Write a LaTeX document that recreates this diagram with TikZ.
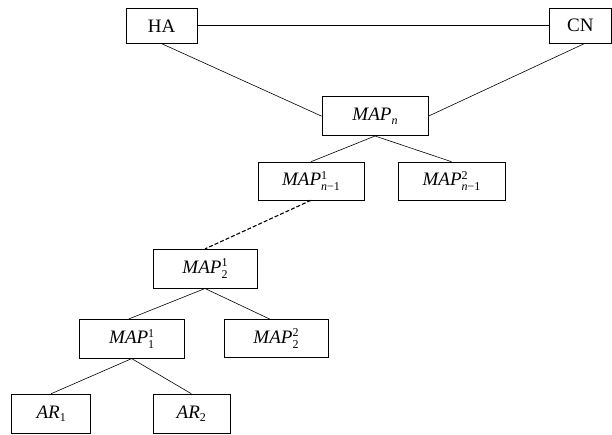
\documentclass[tikz,border=0pt]{standalone}
\usepackage{fontspec}
\setmainfont{Liberation Serif}
\newcommand{\scr}{\fontsize{12}{13}\selectfont}
\newcommand{\supsubx}[2]{\mbox{\rlap{\raisebox{6.5pt}{\scr #1}}\raisebox{-5pt}{\scr #2}}}
\newcommand{\subx}[1]{\mbox{\raisebox{-3.5pt}{\scr #1}}}
\begin{document}
\begin{tikzpicture}[x=1pt,y=-1pt,
  box/.style={draw,line width=0.6pt,inner sep=0pt,font=\fontsize{19}{22}\selectfont},
  conn/.style={line width=0.6pt}]
\useasboundingbox (0,0) rectangle (612,435);
\node[box,minimum width=71pt,minimum height=35pt] (ha) at (161.5,25.8) {HA};
\node[box,minimum width=62pt,minimum height=35pt] (cn) at (580.4,25.8) {CN};
\node[box,minimum width=106pt,minimum height=39pt] (mapn) at (375,116.2) {\textit{MAP}\subx{\textit{n}}};
\node[box,minimum width=106pt,minimum height=38pt] (mapa) at (311,181) {\textit{MAP}\supsubx{1}{\textit{n}−1}};
\node[box,minimum width=107pt,minimum height=38pt] (mapb) at (451.5,181) {\textit{MAP}\supsubx{2}{\textit{n}−1}};
\node[box,minimum width=104pt,minimum height=39pt] (map21) at (205,268.7) {\textit{MAP}\supsubx{1}{2}};
\node[box,minimum width=105pt,minimum height=39pt] (map11) at (131.7,338.8) {\textit{MAP}\supsubx{1}{1}};
\node[box,minimum width=104pt,minimum height=38pt] (map22) at (276,338.5) {\textit{MAP}\supsubx{2}{2}};
\node[box,minimum width=79pt,minimum height=39pt] (ar1) at (51.2,413.5) {\textit{AR}\subx{1}};
\node[box,minimum width=77pt,minimum height=39pt] (ar2) at (191.3,413.5) {\textit{AR}\subx{2}};
\draw[conn] (ha.east) -- (cn.west);
\draw[conn] (ha.south) -- (mapn.west);
\draw[conn] ([xshift=4pt]cn.south) -- (mapn.east);
\draw[conn] (mapn.south) -- (mapa.north);
\draw[conn] (mapn.south) -- (mapb.north);
\draw[conn,dash pattern=on 4pt off 2pt,line width=1.1pt] (mapa.south) -- (map21.north);
\draw[conn] (map21.south) -- ([xshift=-3pt]map11.north);
\draw[conn] (map21.south) -- ([xshift=-6pt]map22.north);
\draw[conn] (map11.south) -- (ar1.north);
\draw[conn] (map11.south) -- (ar2.north);
\end{tikzpicture}
\end{document}
